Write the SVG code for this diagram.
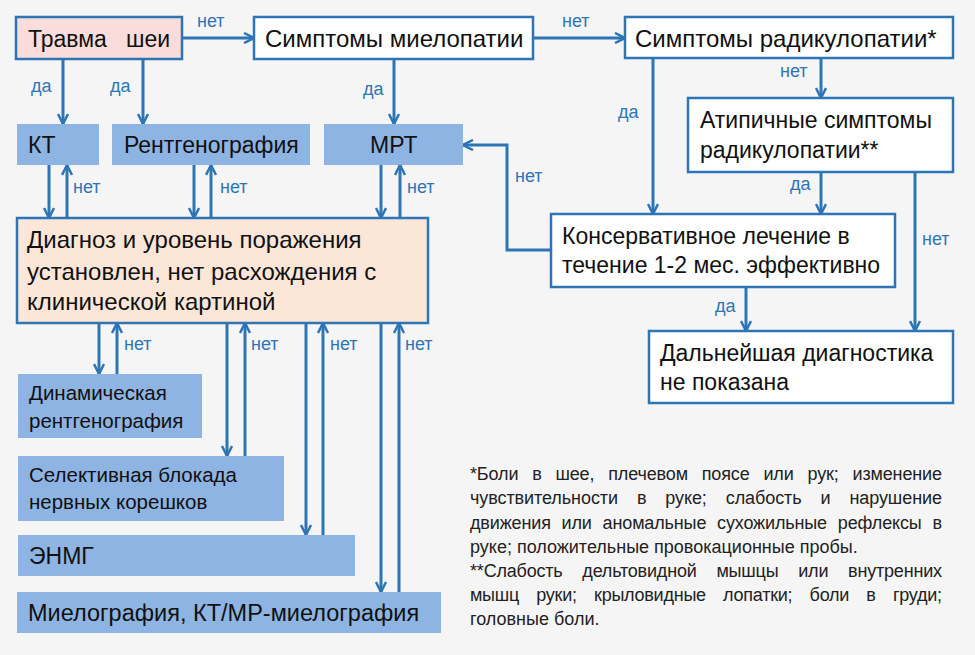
<svg xmlns="http://www.w3.org/2000/svg" width="975" height="655" viewBox="0 0 975 655">
<style>
.bg{fill:#f5f5f5}
.wb{fill:#ffffff;stroke:#2e75b6;stroke-width:2.5}
.pk{fill:#fadcda;stroke:#2e75b6;stroke-width:2.5}
.pe{fill:#fce6d8;stroke:#2e75b6;stroke-width:2.5}
.fb{fill:#8db4e2}
.t{font-family:"Liberation Sans",Arial,sans-serif;font-size:23px;fill:#111}
.tl{font-family:"Liberation Sans",Arial,sans-serif;font-size:24px;fill:#111}
.ts{font-family:"Liberation Sans",Arial,sans-serif;font-size:20.5px;fill:#111}
.lb{font-family:"Liberation Sans",Arial,sans-serif;font-size:18px;fill:#2e75b6}
.fn{font-family:"Liberation Sans",Arial,sans-serif;font-size:18px;fill:#222}
.c{fill:none;stroke:#2e75b6;stroke-width:3;marker-end:url(#ah)}
</style>
<defs>
<marker id="ah" viewBox="0 0 12 12" refX="11" refY="6" markerWidth="12" markerHeight="12" markerUnits="userSpaceOnUse" orient="auto">
<path d="M1,1 L11,6 L1,11" fill="none" stroke="#2e75b6" stroke-width="2.5"/>
</marker>
</defs>
<rect class="bg" x="0" y="0" width="975" height="655"/>

<g id="connectors">
<path class="c" d="M182,38 H254"/>
<path class="c" d="M533,38 H625"/>
<path class="c" d="M63,59 V124"/>
<path class="c" d="M143,59 V124"/>
<path class="c" d="M394,59 V124"/>
<path class="c" d="M49,165 V218"/>
<path class="c" d="M67,218 V165"/>
<path class="c" d="M194,165 V218"/>
<path class="c" d="M211,218 V165"/>
<path class="c" d="M381,165 V218"/>
<path class="c" d="M400,218 V165"/>
<path class="c" d="M653,58 V214"/>
<path class="c" d="M821,58 V98"/>
<path class="c" d="M821,172 V214"/>
<path class="c" d="M915,172 V331"/>
<path class="c" d="M551,250 H507 V145 H463"/>
<path class="c" d="M746,287 V331"/>
<path class="c" d="M99,323 V374"/>
<path class="c" d="M117,374 V323"/>
<path class="c" d="M227,323 V456"/>
<path class="c" d="M245,456 V323"/>
<path class="c" d="M306,323 V535"/>
<path class="c" d="M323,535 V323"/>
<path class="c" d="M381,323 V592"/>
<path class="c" d="M399,592 V323"/>
<text class="lb" x="197" y="27">нет</text>
<text class="lb" x="562" y="27">нет</text>
<text class="lb" x="31" y="92">да</text>
<text class="lb" x="110" y="92">да</text>
<text class="lb" x="363" y="95">да</text>
<text class="lb" x="73" y="193">нет</text>
<text class="lb" x="220" y="193">нет</text>
<text class="lb" x="407" y="193">нет</text>
<text class="lb" x="780" y="77">нет</text>
<text class="lb" x="618" y="118">да</text>
<text class="lb" x="515" y="182">нет</text>
<text class="lb" x="790" y="190">да</text>
<text class="lb" x="922" y="245">нет</text>
<text class="lb" x="715" y="312">да</text>
<text class="lb" x="124" y="350">нет</text>
<text class="lb" x="251" y="350">нет</text>
<text class="lb" x="330" y="350">нет</text>
<text class="lb" x="405" y="350">нет</text>
</g>

<g id="trauma">
<rect class="pk" x="16" y="17" width="166" height="42"/>
<text class="t" y="47"><tspan x="28">Травма</tspan><tspan x="126">шеи</tspan></text>
</g>
<g id="myelopathy">
<rect class="wb" x="254" y="17" width="279" height="42"/>
<text class="tl" x="265" y="47">Симптомы миелопатии</text>
</g>
<g id="radiculopathy">
<rect class="wb" x="625" y="17" width="328" height="41"/>
<text class="tl" x="635" y="47">Симптомы радикулопатии*</text>
</g>
<g id="ct">
<rect class="fb" x="17" y="124" width="82" height="41"/>
<text class="t" x="28" y="153">КТ</text>
</g>
<g id="xray">
<rect class="fb" x="112" y="124" width="198" height="41"/>
<text class="t" x="124" y="153">Рентгенография</text>
</g>
<g id="mri">
<rect class="fb" x="324" y="124" width="139" height="41"/>
<text class="t" x="370" y="153">МРТ</text>
</g>
<g id="atypical">
<rect class="wb" x="688" y="98" width="265" height="74"/>
<text class="t" x="700" y="128">Атипичные симптомы</text>
<text class="t" x="700" y="158">радикулопатии**</text>
</g>
<g id="diagnosis">
<rect class="pe" x="17" y="218" width="411" height="105"/>
<text class="tl" x="27" y="248">Диагноз и уровень поражения</text>
<text class="tl" x="27" y="280">установлен, нет расхождения с</text>
<text class="tl" x="27" y="310">клинической картиной</text>
</g>
<g id="conservative">
<rect class="wb" x="551" y="214" width="344" height="73"/>
<text class="t" x="562" y="244">Консервативное лечение в</text>
<text class="t" x="562" y="273">течение 1-2 мес. эффективно</text>
</g>
<g id="nofurther">
<rect class="wb" x="649" y="331" width="304" height="72"/>
<text class="t" x="660" y="361">Дальнейшая диагностика</text>
<text class="t" x="660" y="390">не показана</text>
</g>
<g id="dynamic">
<rect class="fb" x="18" y="374" width="184" height="64"/>
<text class="ts" x="29" y="400">Динамическая</text>
<text class="ts" x="29" y="428">рентгенография</text>
</g>
<g id="selective">
<rect class="fb" x="18" y="456" width="266" height="65"/>
<text class="ts" x="29" y="482">Селективная блокада</text>
<text class="ts" x="29" y="509">нервных корешков</text>
</g>
<g id="enmg">
<rect class="fb" x="18" y="535" width="337" height="41"/>
<text class="t" x="29" y="564">ЭНМГ</text>
</g>
<g id="myelography">
<rect class="fb" x="17" y="592" width="424" height="41"/>
<text class="t" x="28" y="621" style="font-size:23.5px">Миелография, КТ/МР-миелография</text>
</g>

<g id="footnote">
<text class="fn" x="470" y="480" word-spacing="9" textLength="472" lengthAdjust="spacing">*Боли в шее, плечевом поясе или рук; изменение</text>
<text class="fn" x="470" y="504" word-spacing="14" textLength="472" lengthAdjust="spacing">чувствительности в руке; слабость и нарушение</text>
<text class="fn" x="470" y="529" word-spacing="6" textLength="472" lengthAdjust="spacing">движения или аномальные сухожильные рефлексы в</text>
<text class="fn" x="470" y="553">руке; положительные провокационные пробы.</text>
<text class="fn" x="470" y="577" word-spacing="15" textLength="472" lengthAdjust="spacing">**Слабость дельтовидной мышцы или внутренних</text>
<text class="fn" x="470" y="601" word-spacing="12.5" textLength="472" lengthAdjust="spacing">мышц руки; крыловидные лопатки; боли в груди;</text>
<text class="fn" x="470" y="625">головные боли.</text>
</g>
</svg>
